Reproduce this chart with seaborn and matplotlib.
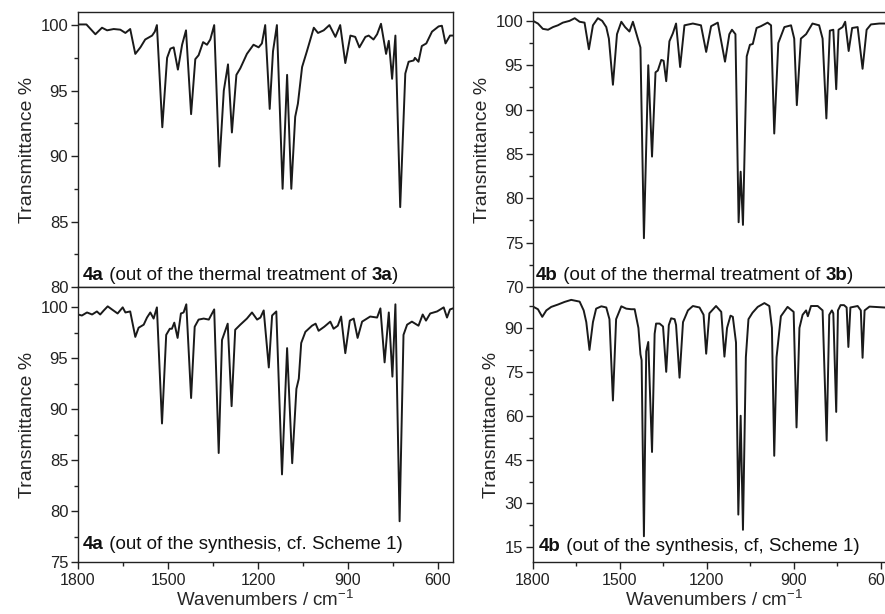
import numpy as np
import pandas as pd
import matplotlib
matplotlib.use("Agg")
import matplotlib.pyplot as plt
import seaborn as sns
from matplotlib.ticker import MultipleLocator
from matplotlib.offsetbox import TextArea, HPacker, AnchoredOffsetbox

# ---------------- data ----------------
wn_4a_thermal = [1800, 1772, 1742, 1720, 1703, 1681, 1659, 1642, 1626, 1609, 1592, 1576, 1553, 1544,
                 1537, 1519, 1503, 1492, 1481, 1467, 1453, 1440, 1423, 1409, 1398, 1383, 1370, 1359,
                 1346, 1329, 1314, 1300, 1287, 1272, 1259, 1237, 1215, 1198, 1187, 1176, 1161, 1150,
                 1137, 1118, 1103, 1089, 1076, 1067, 1053, 1037, 1014, 1000, 981, 962, 942, 926, 909,
                 892, 876, 862, 842, 831, 815, 803, 790, 773, 764, 753, 742, 726, 709, 698, 681, 677,
                 665, 654, 639, 620, 598, 587, 575, 560, 550]
t_4a_thermal = [100.05, 100.05, 99.3, 99.8, 99.6, 99.7, 99.65, 99.4, 99.7, 97.8, 98.3, 98.9, 99.2, 99.5,
                100.0, 92.2, 97.5, 98.2, 98.3, 96.6, 98.5, 99.6, 93.2, 97.4, 97.7, 98.7, 98.5, 98.9,
                100.0, 89.2, 95.0, 97.0, 91.8, 96.2, 96.7, 97.8, 98.5, 98.3, 98.6, 100.0, 93.6, 98.0,
                100.0, 87.5, 96.2, 87.5, 93.0, 94.0, 96.8, 98.0, 99.8, 99.4, 99.6, 100.0, 99.1, 100.0, 97.1,
                99.2, 99.1, 98.3, 99.1, 99.2, 98.9, 99.3, 100.1, 97.8, 98.8, 95.9, 99.2, 86.1, 96.3, 97.2, 97.3, 97.5,
                97.2, 98.4, 98.6, 99.5, 99.9, 99.95, 98.6, 99.2, 99.2]

wn_4a_synth = [1800, 1787, 1770, 1753, 1737, 1726, 1714, 1701, 1687, 1668, 1651, 1642, 1626, 1609, 1598,
               1581, 1570, 1559, 1548, 1537, 1520, 1506, 1494, 1487, 1479, 1468, 1457, 1448, 1439, 1423,
               1411, 1398, 1381, 1364, 1346, 1331, 1320, 1301, 1288, 1276, 1259, 1237, 1220, 1203, 1192,
               1181, 1164, 1153, 1139, 1120, 1103, 1086, 1072, 1064, 1056, 1042, 1020, 1008, 998, 979, 959,
               948, 934, 923, 909, 894, 881, 868, 853, 826, 803, 792, 778, 764, 752, 742, 728, 715, 703,
               687, 676, 665, 651, 640, 626, 603, 581, 570, 560, 550]
t_4a_synth = [99.3, 99.2, 99.5, 99.3, 99.6, 99.3, 99.7, 100.1, 99.8, 99.4, 100.0, 99.5, 99.6, 97.1, 98.0,
              98.3, 99.0, 99.5, 98.9, 100.0, 88.6, 97.3, 97.9, 97.9, 98.5, 97.0, 99.4, 99.5, 100.3, 91.1,
              98.1, 98.8, 98.9, 98.8, 99.8, 85.7, 96.8, 98.4, 90.3, 97.8, 98.3, 98.9, 99.5, 98.8, 99.0,
              99.7, 94.1, 99.2, 99.6, 83.6, 96.0, 84.7, 92.0, 93.0, 96.5, 97.6, 98.2, 98.4, 97.7, 98.1, 98.6,
              97.9, 98.2, 99.1, 95.5, 98.7, 98.9, 97.0, 98.6, 99.1, 99.0, 99.9, 94.6, 99.5, 93.2, 100.3, 79.0, 97.3, 98.3,
              98.6, 98.4, 98.2, 99.3, 98.7, 99.4, 99.6, 100.0, 99.0, 99.8, 99.9]

wn_4b_thermal = [1800, 1783, 1766, 1748, 1731, 1714, 1697, 1674, 1656, 1639, 1622, 1607, 1593, 1576, 1561,
                 1547, 1538, 1524, 1510, 1495, 1482, 1467, 1455, 1438, 1429, 1417, 1402, 1389, 1377, 1369,
                 1357, 1349, 1340, 1329, 1317, 1306, 1292, 1277, 1248, 1220, 1202, 1185, 1162, 1137, 1122,
                 1113, 1101, 1090, 1083, 1075, 1062, 1051, 1041, 1028, 1013, 990, 978, 967, 953, 932, 909,
                 898, 889, 875, 857, 835, 812, 800, 787, 775, 763, 753, 745, 731, 722, 710, 698, 679, 662,
                 648, 633, 604, 587, 550]
t_4b_thermal = [100.0, 99.7, 99.1, 99.0, 99.3, 99.5, 99.8, 100.0, 100.3, 99.9, 99.8, 96.8, 99.5, 100.3, 100.0,
                99.3, 98.0, 92.8, 98.5, 99.9, 99.3, 98.8, 99.9, 98.0, 97.0, 75.5, 95.0, 84.7, 94.2, 94.4,
                95.6, 95.5, 93.2, 97.7, 98.6, 99.7, 94.8, 99.5, 99.7, 99.5, 96.5, 99.4, 99.8, 95.4, 98.5,
                99.0, 98.5, 77.3, 83.0, 77.0, 96.0, 97.3, 97.4, 99.2, 99.4, 99.8, 99.5, 87.3, 97.5, 99.3, 99.5,
                98.0, 90.5, 98.0, 98.5, 99.7, 99.5, 98.0, 89.0, 98.9, 99.0, 92.3, 99.0, 99.3, 99.9, 96.6, 99.2, 99.3, 94.6,
                99.0, 99.6, 99.7, 99.7, 99.7]

wn_4b_synth = [1800, 1783, 1768, 1754, 1737, 1714, 1691, 1668, 1639, 1625, 1616, 1605, 1593, 1582, 1564,
               1547, 1536, 1524, 1513, 1495, 1478, 1461, 1449, 1436, 1429, 1425, 1417, 1409, 1402, 1389,
               1380, 1375, 1363, 1351, 1340, 1331, 1323, 1311, 1306, 1294, 1282, 1265, 1248, 1225, 1211,
               1202, 1191, 1168, 1150, 1139, 1130, 1118, 1110, 1099, 1091, 1083, 1075, 1065, 1056, 1042,
               1024, 1001, 984, 975, 967, 959, 944, 921, 900, 890, 880, 869, 857, 851, 840, 817, 800, 786,
               777, 768, 763, 753, 747, 738, 726, 717, 711, 704, 679, 668, 662, 655, 638, 587, 550]
t_4b_synth = [97.3, 96.4, 93.8, 96.0, 97.2, 98.0, 98.9, 99.6, 99.0, 96.0, 92.0, 82.5, 92.0, 96.6, 97.4,
              97.0, 93.0, 65.2, 93.0, 97.4, 96.6, 96.4, 96.4, 90.0, 81.0, 79.0, 18.8, 82.0, 85.2, 47.6,
              88.0, 91.5, 91.5, 90.5, 75.0, 91.0, 93.3, 93.0, 91.0, 73.0, 92.0, 96.0, 97.5, 97.0, 94.5,
              81.2, 95.0, 97.5, 95.5, 80.2, 90.0, 94.2, 93.8, 85.0, 26.2, 60.0, 21.0, 80.0, 93.0, 95.2,
              97.2, 98.5, 97.5, 90.0, 46.3, 80.0, 94.0, 97.2, 95.5, 56.0, 90.0, 94.5, 96.0, 94.0, 97.5, 97.5, 96.0, 51.5,
              94.5, 96.0, 95.0, 61.3, 96.0, 97.8, 97.8, 97.0, 83.5, 97.0, 97.5, 96.0, 79.8, 96.0, 97.3, 97.0, 97.0]

labels = [
    [("4a", True), (" (out of the thermal treatment of ", False), ("3a", True), (")", False)],
    [("4b", True), (" (out of the thermal treatment of ", False), ("3b", True), (")", False)],
    [("4a", True), (" (out of the synthesis, cf. Scheme 1)", False)],
    [("4b", True), (" (out of the synthesis, cf, Scheme 1)", False)],
]

x_ticks = [1800, 1500, 1200, 900, 600]

# ---------------- style ----------------
sns.set_style("ticks")
plt.rcParams["font.family"] = ["Liberation Sans", "DejaVu Sans"]
plt.rcParams["mathtext.fontset"] = "custom"
plt.rcParams["mathtext.rm"] = "Liberation Sans"
plt.rcParams["mathtext.default"] = "regular"

W, H = 885, 614
fig = plt.figure(figsize=(W / 100, H / 100), dpi=100)

def box(l, r, t, b):
    return [l / W, 1 - b / H, (r - l) / W, (b - t) / H]

axes = [
    fig.add_axes(box(78, 453, 12, 287)),
    fig.add_axes(box(533, 895, 12, 287)),
    fig.add_axes(box(78, 453, 287, 562)),
    fig.add_axes(box(533, 895, 287, 562)),
]

series = [(wn_4a_thermal, t_4a_thermal), (wn_4b_thermal, t_4b_thermal),
          (wn_4a_synth, t_4a_synth), (wn_4b_synth, t_4b_synth)]
ylims = [(80, 101), (70, 101), (75, 102), (10, 104)]
ymaj = [5, 5, 5, 15]
label_pos = [(0.013, 0.04), (0.008, 0.04), (0.013, 0.062), (0.017, 0.055)]

for i, ax in enumerate(axes):
    wn, t = series[i]
    df = pd.DataFrame({"wn": wn, "T": t})
    sns.lineplot(data=df, x="wn", y="T", ax=ax, color="#1a1a1a", linewidth=1.4,
                 estimator=None, sort=True)
    ax.set_xlim(1800, 550)
    ax.set_ylim(*ylims[i])
    ax.yaxis.set_major_locator(MultipleLocator(ymaj[i]))
    ax.yaxis.set_minor_locator(MultipleLocator(ymaj[i] / 2))
    ax.set_xticks(x_ticks)
    ax.xaxis.set_minor_locator(MultipleLocator(150))
    for s in ax.spines.values():
        s.set_visible(True)
        s.set_linewidth(1.0)
        s.set_color("#222222")
    ax.tick_params(axis="both", which="major", direction="out", length=5, width=1.0,
                   colors="#222222", pad=2)
    ax.tick_params(axis="y", which="major", labelsize=12)
    ax.tick_params(axis="x", which="major", labelsize=11.5, pad=3)
    ax.tick_params(axis="both", which="minor", direction="out", length=3, width=1.0,
                   colors="#222222")
    ax.set_ylabel("Transmittance %", fontsize=14, labelpad=3)
    if i < 2:
        ax.tick_params(axis="x", which="both", bottom=False, labelbottom=False)
        ax.set_xlabel("")
    else:
        ax.set_xlabel("Wavenumbers / cm$^{-1}$", fontsize=13.5, labelpad=1)

    parts = [TextArea(txt, textprops=dict(fontsize=13.5, fontweight="bold" if b else "normal",
                                          color="#111111"))
             for txt, b in labels[i]]
    pack = HPacker(children=parts, align="baseline", pad=0, sep=0)
    anc = AnchoredOffsetbox(loc="center left", child=pack, pad=0, frameon=False,
                            bbox_to_anchor=label_pos[i], bbox_transform=ax.transAxes,
                            borderpad=0)
    ax.add_artist(anc)

fig.savefig("out.png", dpi=100)
